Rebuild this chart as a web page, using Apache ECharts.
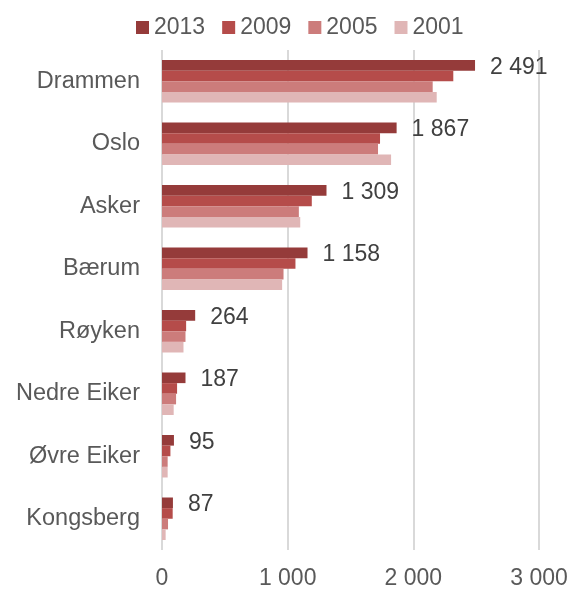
<!DOCTYPE html>
<html><head><meta charset="utf-8">
<script src="https://cdn.jsdelivr.net/npm/echarts@6/dist/echarts.min.js"></script>
<style>html,body{margin:0;padding:0;background:#fff}#c{width:571px;height:590px}</style>
</head><body><div id="c"></div>
<script>
const categories = ['Drammen','Oslo','Asker','Bærum','Røyken','Nedre Eiker','Øvre Eiker','Kongsberg'];
const years = ['2013','2009','2005','2001'];
const v2013 = [2491,1867,1309,1158,264,187,95,87];
const v2009 = [2318,1735,1192,1062,192,120,67,85];
const v2005 = [2154,1719,1089,967,187,112,45,48];
const v2001 = [2186,1823,1100,956,171,93,45,29];
const xTicks = [0,1000,2000,3000];
const colors = ['#953B3A','#B54C4A','#CC7C7B','#E0B6B6'];

const fmt = v => String(v).replace(/\B(?=(\d{3})+(?!\d))/g, '\u00a0');
const font = "'Liberation Sans', Arial, sans-serif";
const chart = echarts.init(document.getElementById('c'), null, {renderer:'canvas'});
const data = [v2013, v2009, v2005, v2001];
chart.setOption({
  animation:false,
  color: colors,
  legend:{top:11,left:131,itemWidth:13,itemHeight:13,itemGap:17,
    textStyle:{fontFamily:font,fontSize:23,color:'#595959'},
    icon:'rect', data: years},
  grid:{left:162,right:32,top:50,bottom:38,containLabel:false},
  xAxis:{type:'value',min:xTicks[0],max:xTicks[xTicks.length-1],interval:1000,
    axisLine:{show:false},axisTick:{show:false},
    axisLabel:{fontFamily:font,fontSize:23,color:'#595959',margin:17,formatter:v=>fmt(v)},
    splitLine:{lineStyle:{color:'#D9D9D9',width:2}}},
  yAxis:{type:'category',data:categories,inverse:true,
    axisLine:{show:false},axisTick:{show:false},
    axisLabel:{fontFamily:font,fontSize:23.5,color:'#595959',margin:22}},
  series: years.map((y,i)=>({
    name:y,type:'bar',data:data[i],barGap:'0%',barCategoryGap:'32%',
    itemStyle:{color:colors[i]},
    label: i===0 ? {show:true,position:'right',distance:15,fontFamily:font,fontSize:23,color:'#404040',formatter:p=>fmt(p.value),offset:[0,2]} : {show:false}
  }))
});
</script></body></html>
